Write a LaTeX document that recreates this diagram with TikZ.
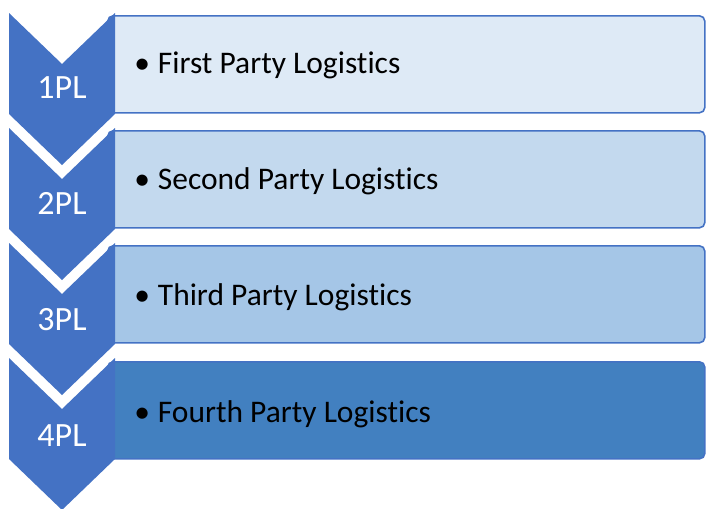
\documentclass[tikz,border=0pt]{standalone}
\usepackage{fontspec}
\setmainfont{Carlito}[Ligatures={NoCommon,NoDiscretionary,NoRare}]
\usetikzlibrary{positioning}
\definecolor{plblue}{RGB}{68,114,196}
\definecolor{plfillA}{RGB}{222,234,246}
\definecolor{plfillB}{RGB}{195,217,238}
\definecolor{plfillC}{RGB}{165,198,231}
\definecolor{plfillD}{RGB}{66,128,192}
\tikzset{
  plbox/.style={draw=plblue, line width=1.2pt, rounded corners=4pt, anchor=north west,
    minimum width=447.75pt, minimum height=72.75pt, inner sep=0},
  pltext/.style={anchor=base west, inner sep=0, font=\fontsize{23.6pt}{26pt}\selectfont},
  pllabel/.style={anchor=base, inner sep=0, text=white, font=\fontsize{25.5pt}{28pt}\selectfont}
}
\begin{document}
\begin{tikzpicture}[x=0.75pt,y=-0.75pt]
      \useasboundingbox (0,0) rectangle (706,508);
      \node[plbox, fill=plfillA] (box1) at (107,15) {};
      \node[plbox, fill=plfillB] (box2) at (107,130) {};
      \node[plbox, fill=plfillC] (box3) at (107,245) {};
      \node[plbox, fill=plfillD] (box4) at (107,361) {};
      \fill[plblue] (9,13) -- (62,64) -- (115,13) -- (115,114) -- (62,165) -- (9,114) -- cycle;
      \fill[plblue] (9,128) -- (62,179) -- (115,128) -- (115,229) -- (62,280) -- (9,229) -- cycle;
      \fill[plblue] (9,243) -- (62,294) -- (115,243) -- (115,344) -- (62,395) -- (9,344) -- cycle;
      \fill[plblue] (9,358) -- (62,409) -- (115,358) -- (115,459) -- (62,510) -- (9,459) -- cycle;
      \node[pllabel] (pl1) at (62,98.5) {1PL};
      \node[pllabel] (pl2) at (62,214) {2PL};
      \node[pllabel] (pl3) at (62,330) {3PL};
      \node[pllabel] (pl4) at (62,446) {4PL};
      \node[pltext] (txt1) at (134,73) {•\hspace{6pt}First Party Logistics};
      \node[pltext] (txt2) at (134,189) {•\hspace{6pt}Second Party Logistics};
      \node[pltext] (txt3) at (134,305) {•\hspace{6pt}Third Party Logistics};
      \node[pltext] (txt4) at (134,422) {•\hspace{6pt}Fourth Party Logistics};
    \end{tikzpicture}
\end{document}
